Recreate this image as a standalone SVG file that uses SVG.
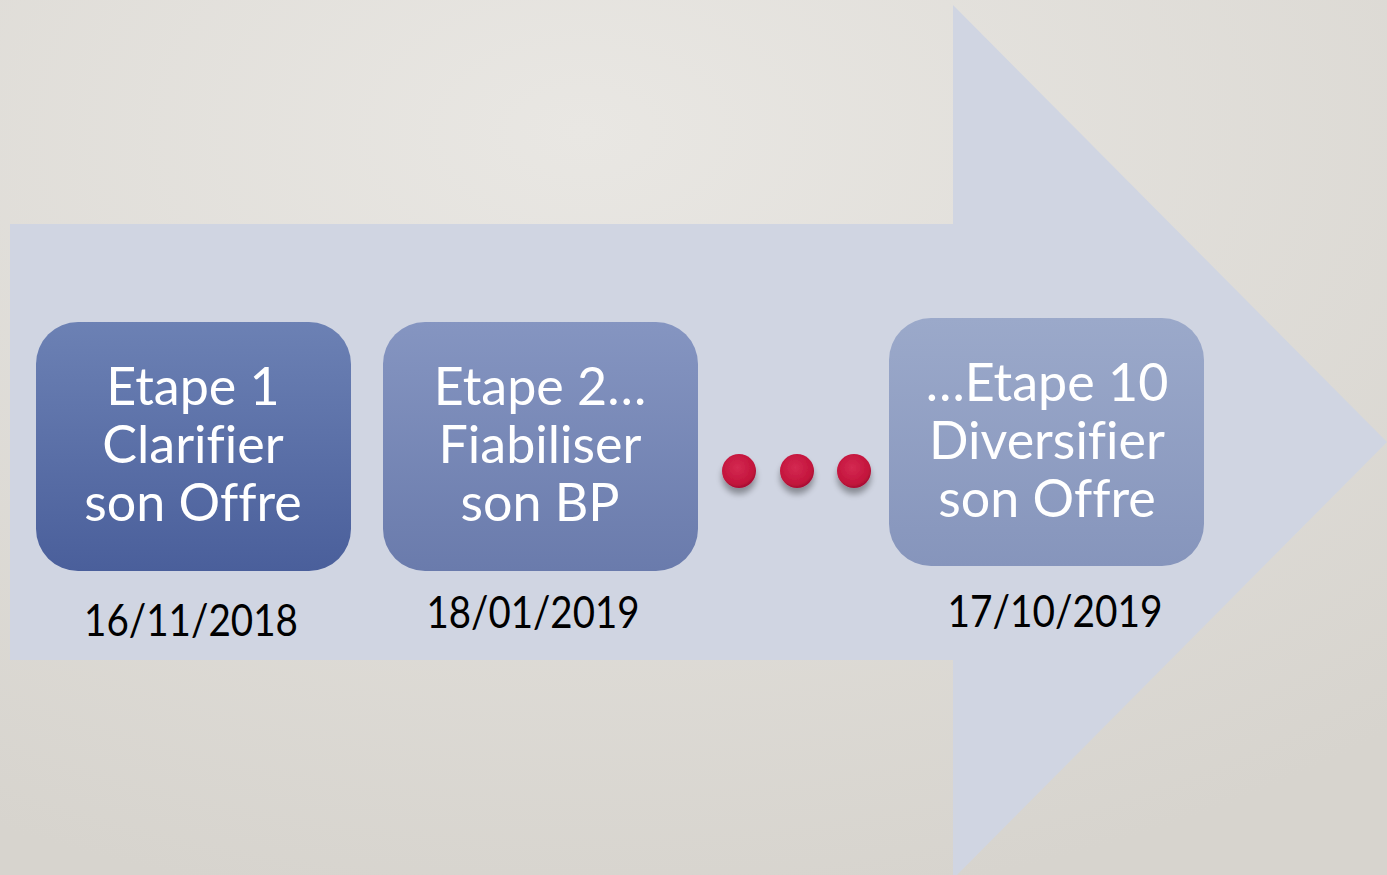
<svg xmlns="http://www.w3.org/2000/svg" width="1387" height="875" viewBox="0 0 1387 875">
<defs>
<radialGradient id="bg" cx="0.42" cy="0.15" r="0.9">
<stop offset="0" stop-color="#e9e7e3"/>
<stop offset="1" stop-color="#d7d4ce"/>
</radialGradient>
<linearGradient id="g1" x1="0" y1="0" x2="0" y2="1">
<stop offset="0" stop-color="#6c81b4"/>
<stop offset="1" stop-color="#4a5f9b"/>
</linearGradient>
<linearGradient id="g2" x1="0" y1="0" x2="0" y2="1">
<stop offset="0" stop-color="#8595c1"/>
<stop offset="1" stop-color="#6a7bac"/>
</linearGradient>
<linearGradient id="g3" x1="0" y1="0" x2="0" y2="1">
<stop offset="0" stop-color="#9ba9ca"/>
<stop offset="1" stop-color="#8695bc"/>
</linearGradient>
<radialGradient id="dot" cx="0.45" cy="0.4" r="0.6">
<stop offset="0" stop-color="#d42a52"/>
<stop offset="0.8" stop-color="#c3143c"/>
<stop offset="1" stop-color="#a80f33"/>
</radialGradient>
<filter id="sh" x="-50%" y="-50%" width="200%" height="220%">
<feGaussianBlur in="SourceAlpha" stdDeviation="3"/>
<feOffset dy="6" result="b"/>
<feComponentTransfer><feFuncA type="linear" slope="0.35"/></feComponentTransfer>
<feMerge><feMergeNode/><feMergeNode in="SourceGraphic"/></feMerge>
</filter>
</defs>
<style>
.lbl{font-family:"Lato","Open Sans",sans-serif;font-size:52px;fill:#ffffff;text-anchor:middle;font-variant-ligatures:none;font-feature-settings:"liga" 0,"clig" 0,"dlig" 0}
.date{font-family:"Lato","Open Sans",sans-serif;font-size:44px;fill:#000000;text-anchor:middle}
</style>
<rect width="1387" height="875" fill="url(#bg)"/>
<g id="arrow">
<polygon points="10,224 953,224 953,5 1387,442 953,879 953,660 10,660" fill="#d0d5e2"/>
</g>
<g id="step1">
<rect x="36" y="322" width="315" height="249" rx="42" fill="url(#g1)"/>
<text class="lbl" x="193" y="405">Etape 1</text>
<text class="lbl" x="193" y="463">Clarifier</text>
<text class="lbl" x="193" y="521">son Offre</text>
<text class="date" x="191" y="636" textLength="214" lengthAdjust="spacingAndGlyphs">16/11/2018</text>
</g>
<g id="step2">
<rect x="383" y="322" width="315" height="249" rx="42" fill="url(#g2)"/>
<text class="lbl" x="540" y="405">Etape 2…</text>
<text class="lbl" x="540" y="463">Fiabiliser</text>
<text class="lbl" x="540" y="521">son BP</text>
<text class="date" x="533" y="628" textLength="213" lengthAdjust="spacingAndGlyphs">18/01/2019</text>
</g>
<g id="dots" filter="url(#sh)">
<circle cx="739" cy="471" r="17" fill="url(#dot)"/>
<circle cx="797" cy="471" r="17" fill="url(#dot)"/>
<circle cx="854" cy="471" r="17" fill="url(#dot)"/>
</g>
<g id="step10">
<rect x="889" y="318" width="315" height="248" rx="42" fill="url(#g3)"/>
<text class="lbl" x="1047" y="401">…Etape 10</text>
<text class="lbl" x="1047" y="459">Diversifier</text>
<text class="lbl" x="1047" y="517">son Offre</text>
<text class="date" x="1055" y="627" textLength="215" lengthAdjust="spacingAndGlyphs">17/10/2019</text>
</g>
<g id="connectors"/>
</svg>
